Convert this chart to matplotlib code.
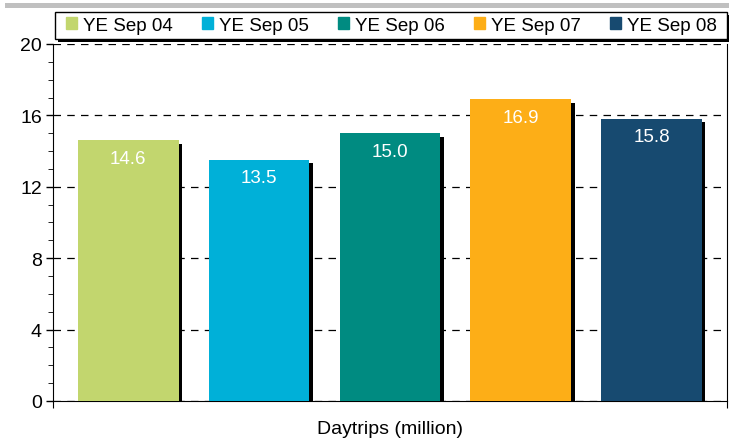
import matplotlib.pyplot as plt
import matplotlib.patches as mpatches
import matplotlib.patheffects as pe
import numpy as np

plt.rcParams['font.family'] = ['Liberation Sans', 'DejaVu Sans']

periods = ['YE Sep 04', 'YE Sep 05', 'YE Sep 06', 'YE Sep 07', 'YE Sep 08']
daytrips = [14.6, 13.5, 15.0, 16.9, 15.8]
colors = ['#C2D66E', '#00B0D8', '#008B81', '#FDAE17', '#174A70']

fig = plt.figure(figsize=(7.29, 4.39), dpi=100)
ax = fig.add_axes([0.0727, 0.0843, 0.9243, 0.8132])

# grey band at the very top
fig.patches.append(mpatches.Rectangle((0.007, 0.979), 0.993, 0.012, transform=fig.transFigure,
                                      facecolor='#C0C0C0', edgecolor='none'))

# legend frame with a hard black shadow
fig.patches.append(mpatches.Rectangle((0.0754, 0.9089), 0.9218, 0.0615, transform=fig.transFigure,
                                      facecolor='white', edgecolor='black', linewidth=1,
                                      path_effects=[pe.SimplePatchShadow(offset=(2, -2), shadow_rgbFace='black', alpha=1),
                                                    pe.Normal()]))

x = np.arange(len(periods))
bars = ax.bar(x, daytrips, width=0.77, color=colors, zorder=3,
              path_effects=[pe.SimplePatchShadow(offset=(2.5, -2.5), shadow_rgbFace='black', alpha=1),
                            pe.Normal()])
for xi, v in zip(x, daytrips):
    ax.text(xi, v - 1.0, f'{v:.1f}', ha='center', va='center', color='white', fontsize=13.5, zorder=4)

ax.set_xlim(-0.575, 4.575)
ax.set_ylim(0, 20)
ax.set_yticks(np.arange(0, 21, 4))
ax.set_yticks(np.arange(0, 21, 1), minor=True)
ax.tick_params(axis='y', labelsize=14, length=5, width=1, direction='out', pad=3)
ax.tick_params(axis='y', which='minor', length=3.5)
ax.set_xticks([-0.575, 4.575])
ax.set_xticklabels(['', ''])
ax.tick_params(axis='x', length=5)
ax.grid(axis='y', color='black', linestyle=(0, (6, 5)), linewidth=0.9, zorder=1)
ax.spines['top'].set_visible(False)
ax.set_xlabel('Daytrips (million)', fontsize=14, labelpad=5)

handles = [mpatches.Patch(color=c, label=p) for c, p in zip(colors, periods)]
leg = fig.legend(handles=handles, loc='center', bbox_to_anchor=(0.0905, 0.9089, 0.893, 0.0615),
                 mode='expand', ncol=5, fontsize=13.5, frameon=False,
                 handlelength=0.6, handleheight=0.6, handletextpad=0.3, columnspacing=1.0,
                 borderpad=0.0, borderaxespad=0)

fig.savefig('out.png', dpi=100)
